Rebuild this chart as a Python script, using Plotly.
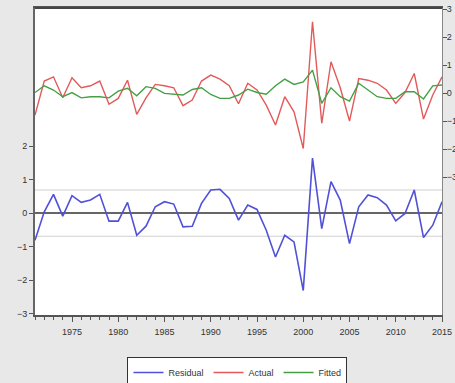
import plotly.graph_objects as go

years = list(range(1971, 2016))
residual = [-0.81, 0.04, 0.56, -0.09, 0.52, 0.32, 0.39, 0.56, -0.24, -0.24,
            0.32, -0.66, -0.39, 0.19, 0.34, 0.27, -0.41, -0.39, 0.29, 0.69,
            0.71, 0.44, -0.21, 0.24, 0.11, -0.51, -1.31, -0.66, -0.86, -2.31,
            1.64, -0.46, 0.94, 0.39, -0.91, 0.19, 0.54, 0.46, 0.24, -0.23,
            -0.01, 0.69, -0.73, -0.36, 0.34]
actual = [-0.79, 0.43, 0.58, -0.17, 0.55, 0.19, 0.26, 0.43, -0.40, -0.19,
          0.46, -0.76, -0.17, 0.31, 0.26, 0.19, -0.45, -0.25, 0.43, 0.64,
          0.50, 0.26, -0.38, 0.35, 0.11, -0.43, -1.14, -0.13, -0.67, -1.98,
          2.55, -1.08, 1.12, 0.19, -1.00, 0.52, 0.46, 0.35, 0.11, -0.37,
          0.02, 0.70, -0.93, -0.07, 0.58]
fitted = [0.02, 0.26, 0.11, -0.13, 0.02, -0.17, -0.13, -0.13, -0.17, 0.07,
          0.17, -0.10, 0.23, 0.17, -0.01, -0.05, -0.07, 0.13, 0.19, -0.05,
          -0.19, -0.19, -0.07, 0.14, 0.02, -0.04, 0.26, 0.50, 0.31, 0.40,
          0.82, -0.37, 0.19, -0.13, -0.29, 0.35, 0.11, -0.13, -0.19, -0.19,
          0.05, 0.05, -0.21, 0.26, 0.29]
x_tickvals = [1975, 1980, 1985, 1990, 1995, 2000, 2005, 2010, 2015]
left_tickvals = [-3, -2, -1, 0, 1, 2]
right_tickvals = [-3, -2, -1, 0, 1, 2, 3]
resid_sd = 0.69

font = "Liberation Sans, Arial, sans-serif"
bg = "#e8e8e8"
fig = go.Figure()
fig.add_trace(go.Scatter(x=years, y=residual, name="Residual", mode="lines",
                         line=dict(color="#5050d8", width=1.6), yaxis="y"))
fig.add_trace(go.Scatter(x=years, y=actual, name="Actual", mode="lines",
                         line=dict(color="#e25a5a", width=1.4), yaxis="y2"))
fig.add_trace(go.Scatter(x=years, y=fitted, name="Fitted", mode="lines",
                         line=dict(color="#45a045", width=1.4), yaxis="y2"))

fig.update_layout(
    width=455, height=383,
    margin=dict(l=35, r=13, t=8, b=68, autoexpand=False),
    paper_bgcolor=bg,
    plot_bgcolor="#ffffff",
    font=dict(family=font, size=9, color="#333333"),
    showlegend=True,
    legend=dict(orientation="h", x=0.4975, xanchor="center",
                yref="container", y=0.068, yanchor="top",
                bgcolor="#ffffff", bordercolor="#333333", borderwidth=1,
                font=dict(size=9, color="#333333"), itemwidth=30),
    xaxis=dict(range=[1971, 2015], tickvals=x_tickvals, ticks="outside", ticklen=5,
               tickcolor="#555555", showgrid=False, zeroline=False,
               showline=True, linecolor="#555555", linewidth=1.5, mirror=True,
               minor=dict(ticks="outside", dtick=1, tick0=1971, ticklen=3,
                          tickcolor="#555555", showgrid=False),
               ticklabelstandoff=2, automargin=False),
    yaxis=dict(range=[-3.04, 6.12], tickvals=left_tickvals, ticks="outside", ticklen=4,
               tickcolor="#555555", showgrid=False, zeroline=False,
               showline=True, linecolor="#666666", linewidth=2,
               automargin=False),
    yaxis2=dict(range=[-7.93, 3.04], tickvals=right_tickvals, overlaying="y", side="right",
                ticks="outside", ticklen=4, tickcolor="#555555", showgrid=False,
                zeroline=False, showline=True, linecolor="#888888", linewidth=1,
                ticklabelstandoff=-2, automargin=False),
)
# top frame
fig.add_shape(type="line", xref="paper", yref="paper", x0=0, x1=1, y0=1, y1=1,
              line=dict(color="#444444", width=2))
# residual zero line and +/- 1 s.d. lines
fig.add_shape(type="line", xref="paper", x0=0, x1=1, yref="y", y0=0, y1=0,
              line=dict(color="#666666", width=2), layer="below")
for v in (resid_sd, -resid_sd):
    fig.add_shape(type="line", xref="paper", x0=0, x1=1, yref="y", y0=v, y1=v,
                  line=dict(color="#d0d0d0", width=1.2), layer="below")

fig.write_html("out.html", config={"displayModeBar": False},
               post_script="document.body.style.margin='0';"
                           "document.body.style.background='%s';" % bg)
